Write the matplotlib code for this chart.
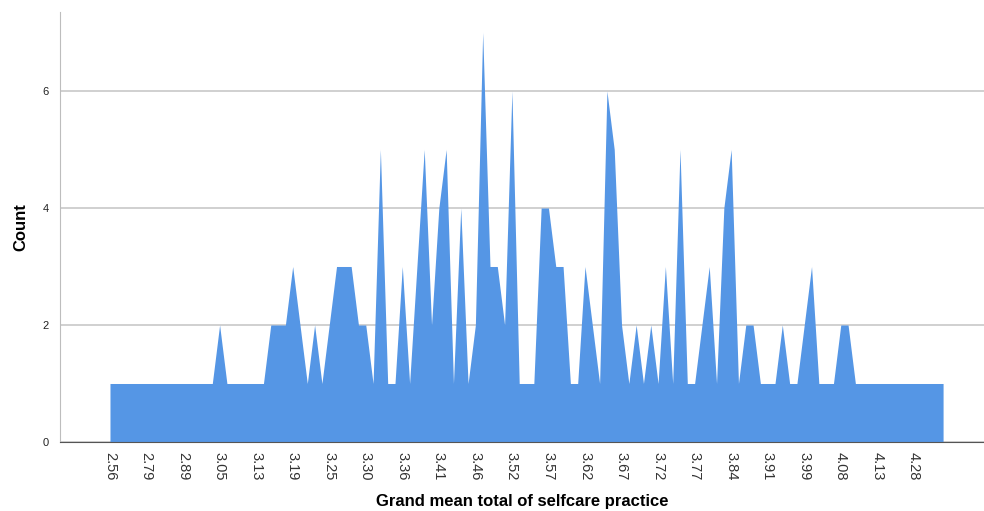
import numpy as np
import matplotlib.pyplot as plt
import matplotlib.transforms as mtransforms

# Effectifs par catégorie (115 catégories)
counts = [
    1, 1, 1, 1, 1, 1, 1, 1, 1, 1,
    1, 1, 1, 1, 1, 2, 1, 1, 1, 1,
    1, 1, 2, 2, 2, 3, 2, 1, 2, 1,
    2, 3, 3, 3, 2, 2, 1, 5, 1, 1,
    3, 1, 3, 5, 2, 4, 5, 1, 4, 1,
    2, 7, 3, 3, 2, 6, 1, 1, 1, 4,
    4, 3, 3, 1, 1, 3, 2, 1, 6, 5,
    2, 1, 2, 1, 2, 1, 3, 1, 5, 1,
    1, 2, 3, 1, 4, 5, 1, 2, 2, 1,
    1, 1, 2, 1, 1, 2, 3, 1, 1, 1,
    2, 2, 1, 1, 1, 1, 1, 1, 1, 1,
    1, 1, 1, 1, 1,
]

# Étiquettes affichées (une catégorie sur cinq)
tick_labels = [
    "2.56", "2.79", "2.89", "3.05", "3.13", "3.19", "3.25", "3.30",
    "3.36", "3.41", "3.46", "3.52", "3.57", "3.62", "3.67", "3.72",
    "3.77", "3.84", "3.91", "3.99", "4.08", "4.13", "4.28",
]
label_step = 5

y_ticks = [0, 2, 4, 6]

plt.rcParams["font.family"] = ["Liberation Sans", "DejaVu Sans"]

fig = plt.figure(figsize=(9.84, 5.11), dpi=100)
ax = fig.add_axes([60 / 984, 69 / 511, 924 / 984, 430 / 511])

x = np.arange(len(counts))
ax.fill_between(x, counts, 0, color="#5596e5", linewidth=0)

ax.set_xlim(-6.84, 119.6)
ax.set_ylim(0, 7.35)

ax.set_yticks(y_ticks)
ax.set_yticklabels([str(v) for v in y_ticks], fontsize=8, color="#222222")
ax.yaxis.grid(True, color="#c8c8c8", linewidth=1.2)
ax.set_axisbelow(True)

positions = np.arange(len(tick_labels)) * label_step
ax.set_xticks(positions)
ax.set_xticklabels(tick_labels, rotation=270, fontsize=10.5,
                   color="#333333", ha="center", va="top")
decalage = mtransforms.ScaledTranslation(-6 / 72, 0, fig.dpi_scale_trans)
for etiquette in ax.get_xticklabels():
    etiquette.set_transform(etiquette.get_transform() + decalage)

ax.tick_params(axis="both", length=0)
ax.tick_params(axis="x", pad=7)
ax.tick_params(axis="y", pad=8)

for cote in ["top", "right"]:
    ax.spines[cote].set_visible(False)
ax.spines["left"].set_color("#bdbdbd")
ax.spines["bottom"].set_color("#555555")

ax.set_ylabel("Count", fontsize=12, fontweight="bold", labelpad=10)
ax.set_xlabel("Grand mean total of selfcare practice", fontsize=12,
              fontweight="bold", labelpad=10)

fig.savefig("out.png", dpi=100)
